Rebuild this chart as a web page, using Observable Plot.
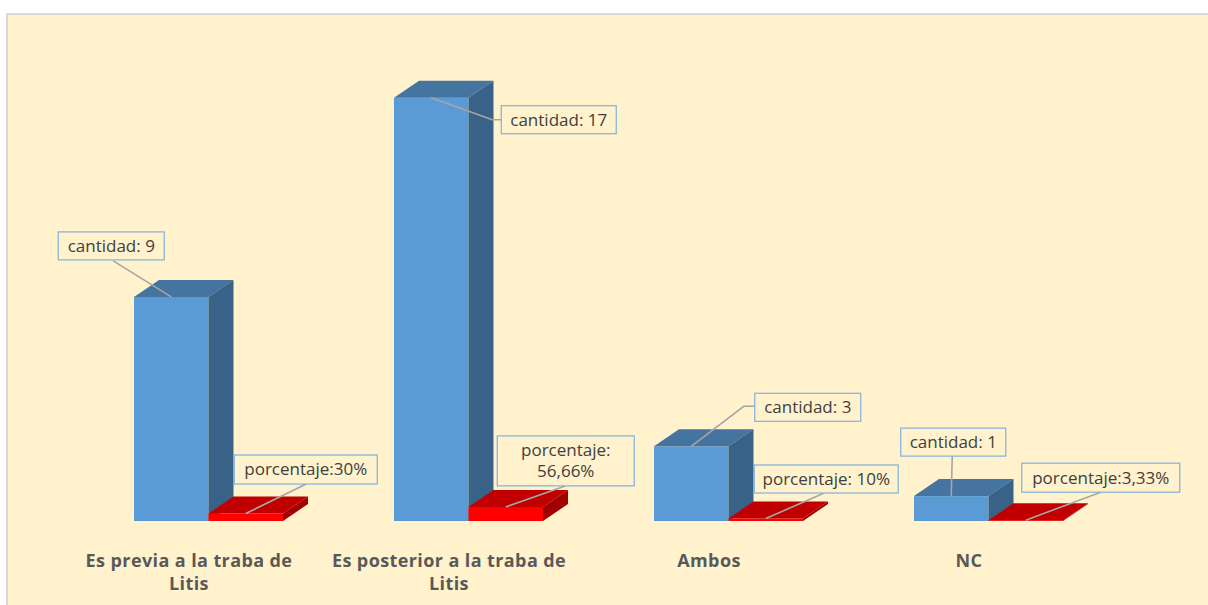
<!DOCTYPE html>
<html><head><meta charset="utf-8">
<script src="https://cdn.jsdelivr.net/npm/d3@7"></script>
<script src="https://cdn.jsdelivr.net/npm/@observablehq/plot@0.6"></script>
<style>
html,body{margin:0;padding:0;background:#fff;width:1208px;height:605px;overflow:hidden}
#frame{position:absolute;left:6px;top:13px;width:1230px;height:630px;background:#FFF2CC;border:2px solid #D9D9D9;box-sizing:border-box}
#chart{position:absolute;left:0;top:0}
</style></head><body><div id="frame"></div><div id="chart"></div>
<script>
// ---- data ----
const categories = ["Es previa a la traba de Litis", "Es posterior a la traba de Litis", "Ambos", "NC"];
const tickLabels = ["Es previa a la traba de\nLitis", "Es posterior a la traba de\nLitis", "Ambos", "NC"];
const cantidad = [9, 17, 3, 1];
const porcentaje = [30, 56.66, 10, 3.33];
const cantidadLabels = ["cantidad: 9", "cantidad: 17", "cantidad: 3", "cantidad: 1"];
const porcentajeLabels = ["porcentaje:30%", "porcentaje:\n56,66%", "porcentaje: 10%", "porcentaje:3,33%"];

// ---- styles / layout ----
const FONT = "'Open Sans', sans-serif";
const DEPTH_X = 25, DEPTH_Y = 17;
const blueColors = {front: "#5B9BD5", top: "#44749F", side: "#386287"};
const redColors = {front: "#FF0000", top: "#C00000", side: "#A20000"};
// callout layout relative to the bar's front-top centre: box left/top, size, leader elbow, mode
const blueCallouts = [
  {l: -113, t: -65, w: 106, h: 28, ex: -58, ey: -36, mode: "bottom"},
  {l: 70, t: 8, w: 115, h: 28, ex: 61, ey: 22, mode: "left"},
  {l: 63.5, t: -53, w: 106, h: 28, ex: 52.5, ey: -40, mode: "left"},
  {l: -50.5, t: -68, w: 105, h: 28, ex: 1, ey: -40, mode: "bottom"}
];
const redCallouts = [
  {l: -11.5, t: -58.5, w: 143, h: 29, ex: 60.5, ey: -29.5, mode: "bottom"},
  {l: -8.5, t: -71, w: 137, h: 50, ex: 59.5, ey: -21, mode: "bottom"},
  {l: -11.5, t: -53.5, w: 144, h: 28, ex: 58.5, ey: -25.5, mode: "bottom"},
  {l: -4, t: -57, w: 158, h: 29, ex: 75, ey: -28, mode: "bottom"}
];

const blueRows = categories.map((c, i) => ({cat: c, v: cantidad[i], label: cantidadLabels[i]}));
const redRows = categories.map((c, i) => ({cat: c, v: porcentaje[i] / 100, label: porcentajeLabels[i]}));

function bars3d(rows, colors, callouts, side) {
  return Plot.barY(rows, {
    x: "cat", y: "v", fill: colors.front,
    insetLeft: side === "right" ? 74.5 : 0,
    insetRight: side === "left" ? 74.5 : 0,
    render(index, scales, values, dims, ctx, next) {
      const g = next(index, scales, values, dims, ctx);
      const sel = d3.select(g);
      const rects = Array.from(g.querySelectorAll("rect"));
      const faces = sel.append("g");
      const notes = sel.append("g");
      rects.forEach((r) => {
        const i = d3.select(r).datum();
        const x1 = +r.getAttribute("x"), w = +r.getAttribute("width");
        const yt = +r.getAttribute("y"), h = +r.getAttribute("height");
        const x2 = x1 + w, yb = yt + h;
        faces.append("path").attr("fill", colors.top)
          .attr("d", `M${x1},${yt}L${x2},${yt}L${x2 + DEPTH_X},${yt - DEPTH_Y}L${x1 + DEPTH_X},${yt - DEPTH_Y}Z`);
        faces.append("path").attr("fill", colors.side)
          .attr("d", `M${x2},${yt}L${x2 + DEPTH_X},${yt - DEPTH_Y}L${x2 + DEPTH_X},${yb - DEPTH_Y}L${x2},${yb}Z`);
        // callout
        const c = callouts[i];
        const ax = x1 + w / 2, ay = yt;
        const bx = ax + c.l, by = ay + c.t;
        const exx = ax + c.ex, eyy = ay + c.ey;
        let d = `M${ax},${ay}L${exx},${eyy}`;
        if (c.mode === "left") d += `L${bx},${eyy}`;
        notes.append("path").attr("d", d).attr("fill", "none")
          .attr("stroke", "#A6A6A6").attr("stroke-width", 1.6);
        notes.append("rect").attr("x", bx).attr("y", by).attr("width", c.w).attr("height", c.h)
          .attr("fill", "#FFF2CC").attr("stroke", "#7FB2E0").attr("stroke-width", 1.2);
        const lines = rows[i].label.split("\n");
        const lh = 21;
        const t = notes.append("text").attr("text-anchor", "middle")
          .attr("font-family", FONT).attr("font-size", 17).attr("fill", "#404040");
        lines.forEach((s, k) => {
          t.append("tspan").attr("x", bx + c.w / 2)
            .attr("y", by + c.h / 2 + (k - (lines.length - 1) / 2) * lh)
            .attr("dy", "0.35em").text(s);
        });
      });
      return g;
    }
  });
}

const chart = Plot.plot({
  width: 1208, height: 605,
  marginLeft: 0, marginRight: 0, marginTop: 23, marginBottom: 84,
  style: {background: "transparent", fontFamily: FONT, overflow: "visible"},
  x: {domain: categories, range: [134, 1063], paddingInner: 0.427, paddingOuter: 0, axis: null},
  y: {domain: [0, 20], range: [521, 23], axis: null},
  marks: [
    bars3d(blueRows, blueColors, blueCallouts, "left"),
    bars3d(redRows, redColors, redCallouts, "right"),
    Plot.text(categories, {
      x: (d) => d, y: () => 0, text: (d, i) => tickLabels[i],
      dx: -20, dy: 28, lineAnchor: "top", lineHeight: 1.33,
      fontSize: 18, fontWeight: "bold", fill: "#595959", fontFamily: FONT,
      render(index, scales, values, dims, ctx, next) {
        const g = next(index, scales, values, dims, ctx);
        g.setAttribute("letter-spacing", "0.4px");
        return g;
      }
    })
  ]
});
document.getElementById("chart").appendChild(chart);
</script></body></html>
